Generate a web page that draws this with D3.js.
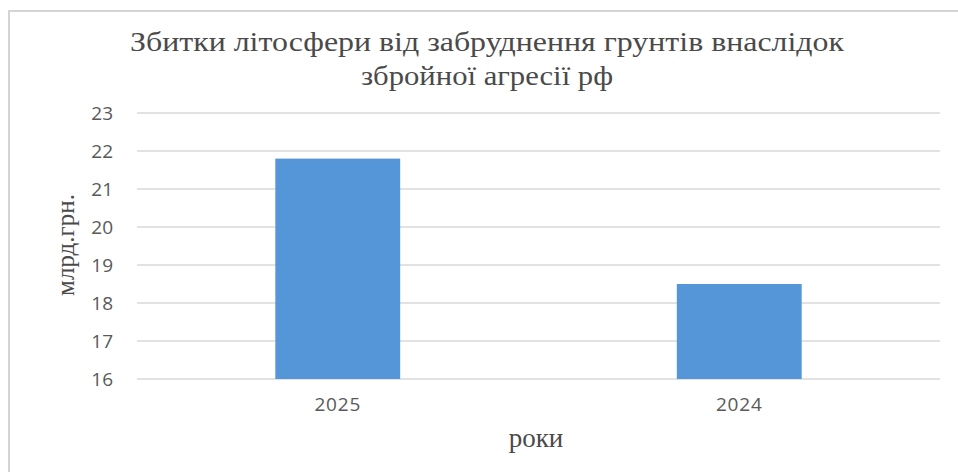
<!DOCTYPE html>
<html>
<head>
<meta charset="utf-8">
<script src="https://cdn.jsdelivr.net/npm/d3@7"></script>
<style>
html,body{margin:0;padding:0;background:#fff;}
svg{display:block;}
</style>
</head>
<body>
<svg id="chart" width="958" height="472"></svg>
<script>
const categories = ["2025", "2024"];
const values = [21.8, 18.5];
const yTicks = [16, 17, 18, 19, 20, 21, 22, 23];
const titleLines = ["Збитки літосфери від забруднення грунтів внаслідок", "збройної агресії рф"];
const yLabel = "млрд.грн.";
const xLabel = "роки";

const svg = d3.select("#chart");
const W = 958, H = 472;
const m = {left: 137, right: 18, top: 113, bottom: 93};
const titleWidths = [714, 252];

// outer border
svg.append("rect").attr("x", 9).attr("y", 11).attr("width", W).attr("height", H)
  .attr("fill", "#fff").attr("stroke", "#d4d4d4").attr("stroke-width", 2);

const x = d3.scaleBand().domain(categories).range([m.left, W - m.right])
  .paddingInner(0.689).paddingOuter(0.3445);
const y = d3.scaleLinear().domain([16, 23]).range([H - m.bottom, m.top]);

// gridlines
svg.append("g").selectAll("line").data(yTicks).join("line")
  .attr("x1", m.left).attr("x2", W - m.right)
  .attr("y1", d => y(d)).attr("y2", d => y(d))
  .attr("stroke", "#d9d9d9").attr("stroke-width", 1.3);

// y axis labels
const yAxis = d3.axisLeft(y).tickValues(yTicks).tickFormat(d3.format("d")).tickSize(0).tickPadding(0);
const gy = svg.append("g").attr("transform", `translate(${m.left - 24},0)`).call(yAxis);
gy.select(".domain").remove();
gy.selectAll("text").attr("font-family", "'Open Sans', sans-serif")
  .attr("font-size", 19).attr("fill", "#595959").attr("dy", "0.36em");

// bars
svg.append("g").selectAll("rect").data(categories).join("rect")
  .attr("x", d => x(d)).attr("width", x.bandwidth())
  .attr("y", (d, i) => y(values[i])).attr("height", (d, i) => y(16) - y(values[i]))
  .attr("fill", "#5596d8");

// x axis labels
const xAxis = d3.axisBottom(x).tickSize(0).tickPadding(0);
const gx = svg.append("g").attr("transform", `translate(0,${H - m.bottom + 18})`).call(xAxis);
gx.select(".domain").remove();
gx.selectAll("text").attr("font-family", "'Open Sans', sans-serif")
  .attr("font-size", 19).attr("fill", "#595959").attr("letter-spacing", "0.8px");

// title
const title = svg.append("text").attr("text-anchor", "middle")
  .attr("font-family", "'Liberation Serif', 'DejaVu Serif', serif")
  .attr("font-size", 28).attr("fill", "#4a4a4a");
title.selectAll("tspan").data(titleLines).join("tspan")
  .attr("x", 487).attr("y", (d, i) => 51 + i * 34)
  .attr("textLength", (d, i) => titleWidths[i]).attr("lengthAdjust", "spacingAndGlyphs")
  .text(d => d);

// y label
svg.append("text").attr("transform", "translate(74,245) rotate(-90)")
  .attr("text-anchor", "middle")
  .attr("font-family", "'Liberation Serif', 'DejaVu Serif', serif")
  .attr("font-size", 25).attr("fill", "#4a4a4a").text(yLabel);

// x label
svg.append("text").attr("x", 536).attr("y", 447).attr("text-anchor", "middle")
  .attr("font-family", "'Liberation Serif', 'DejaVu Serif', serif")
  .attr("font-size", 27).attr("fill", "#4a4a4a").text(xLabel);
</script>
</body>
</html>
